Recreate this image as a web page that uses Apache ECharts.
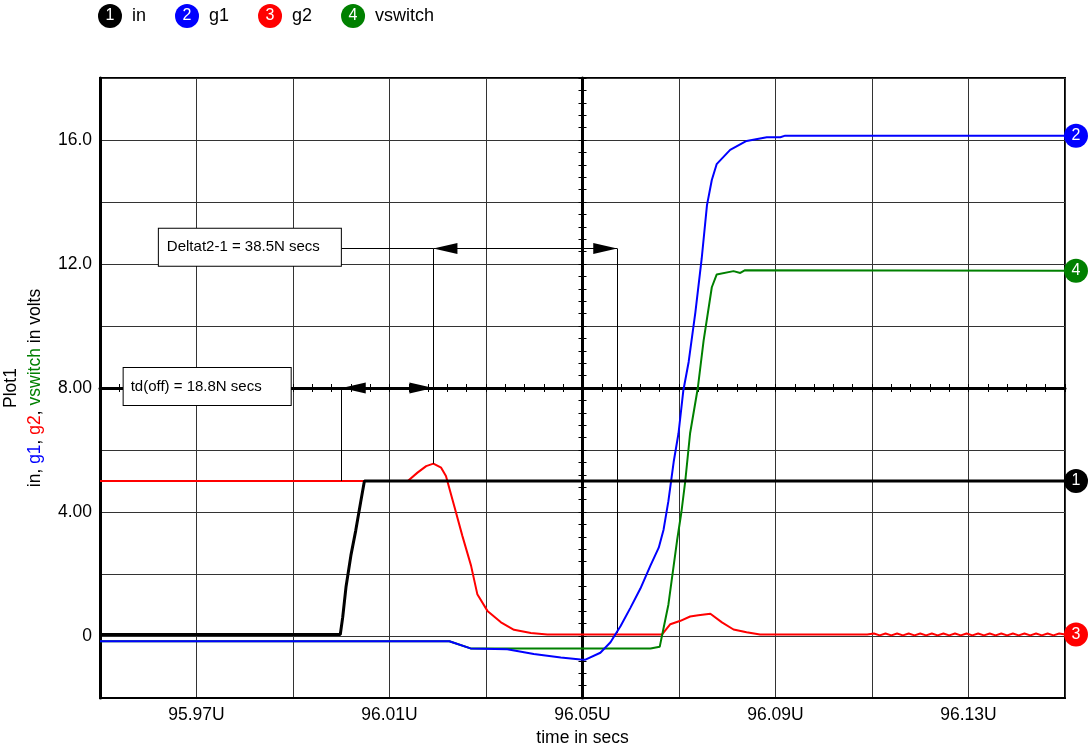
<!DOCTYPE html>
<html>
<head>
<meta charset="utf-8">
<script src="https://cdn.jsdelivr.net/npm/echarts@6/dist/echarts.min.js"></script>
<style>
  html, body { margin: 0; padding: 0; background: #fff; }
  #chart { width: 1090px; height: 746px; }
</style>
</head>
<body>
<div id="chart"></div>
<script>
// trace names / colours (legend order)
var seriesNames = ['in', 'g1', 'g2', 'vswitch'];
var seriesColors = ['#000000', '#0000ff', '#ff0000', '#008000'];

// time axis in U (microseconds), voltages in volts
var inTime = [95.95, 95.9998, 96.0003, 96.001, 96.002, 96.003, 96.004, 96.0048, 96.15];
var inVolt = [0.05, 0.05, 0.6, 1.6, 2.6, 3.4, 4.3, 5.0, 5.0];

var g1Time = [95.95, 96.0224, 96.0268, 96.0344, 96.0399, 96.0455, 96.0496, 96.0505, 96.0537, 96.0558,
              96.0579, 96.0599, 96.062, 96.0641, 96.0658, 96.0668, 96.0678, 96.0689, 96.0699, 96.0709,
              96.072, 96.0734, 96.0747, 96.0758, 96.0768, 96.0778, 96.0806, 96.084, 96.0882, 96.091,
              96.092, 96.15];
var g1Volt = [-0.17, -0.17, -0.4, -0.43, -0.58, -0.69, -0.76, -0.77, -0.54, -0.2,
              0.32, 0.9, 1.53, 2.28, 2.85, 3.43, 4.35, 5.62, 6.54, 7.92,
              8.84, 10.45, 12.17, 13.9, 14.71, 15.22, 15.68, 15.97, 16.09, 16.09,
              16.14, 16.14];

var g2Time = [95.95, 96.0138, 96.0158, 96.0176, 96.0191, 96.0207, 96.0217, 96.0234, 96.0251, 96.0269,
              96.0282, 96.0303, 96.0331, 96.0358, 96.0393, 96.0427, 96.0665, 96.0682, 96.0703, 96.0723,
              96.074, 96.0765, 96.0789, 96.0813, 96.084, 96.0868, 96.109,
              96.1104, 96.1116, 96.1128, 96.114, 96.1152, 96.1164, 96.1176, 96.1188, 96.12, 96.1212,
              96.1224, 96.1236, 96.1248, 96.126, 96.1272, 96.1284, 96.1296, 96.1308, 96.132, 96.1332,
              96.1344, 96.1356, 96.1368, 96.138, 96.1392, 96.1404, 96.1416, 96.1428, 96.144, 96.1452,
              96.1464, 96.1476, 96.1488, 96.15];
var g2Volt = [5.0, 5.0, 5.27, 5.48, 5.56, 5.43, 5.16, 4.2, 3.23, 2.27,
              1.35, 0.81, 0.44, 0.2, 0.1, 0.05, 0.05, 0.38, 0.49, 0.63,
              0.67, 0.72, 0.44, 0.21, 0.12, 0.05, 0.05,
              0.08, 0.02, 0.08, 0.02, 0.08, 0.02, 0.08, 0.02, 0.08, 0.02,
              0.08, 0.02, 0.08, 0.02, 0.08, 0.02, 0.08, 0.02, 0.08, 0.02,
              0.08, 0.02, 0.08, 0.02, 0.08, 0.02, 0.08, 0.02, 0.08, 0.02,
              0.08, 0.02, 0.08, 0.05];

var vswTime = [95.95, 96.0224, 96.0268, 96.0641, 96.066, 96.0678, 96.0696, 96.0705, 96.0713, 96.0723,
               96.0739, 96.0751, 96.0768, 96.0778, 96.0813, 96.0827, 96.0837, 96.15];
var vswVolt = [-0.17, -0.17, -0.4, -0.4, -0.35, 1.01, 3.08, 4.0, 5.0, 6.54,
               8.0, 9.53, 11.25, 11.66, 11.77, 11.71, 11.8, 11.78];

// axis tick labels
var xLabelValues = ['95.97', '96.01', '96.05', '96.09', '96.13'];
var yLabelMap = { '0': '0', '4': '4.00', '8': '8.00', '12': '12.0', '16': '16.0' };

// cursor measurements
var tdOffText = 'td(off) = 18.8N secs';
var deltaText = 'Deltat2-1 = 38.5N secs';
var cursorA = 96.0001, cursorB = 96.0191, cursorC = 96.0572;
var tdLevel = 8, deltaLevel = 12.5;

function zip(t, v) {
    var out = [];
    for (var i = 0; i < t.length; i++) out.push([t[i], v[i]]);
    return out;
}

var FONT = '"Liberation Sans", Arial, sans-serif';
var chart = echarts.init(document.getElementById('chart'), null, { renderer: 'canvas' });

function endMarker(idx, t, v) {
    return {
        silent: true,
        animation: false,
        symbol: 'circle',
        symbolSize: 24,
        symbolOffset: [11, 0],
        itemStyle: { color: seriesColors[idx] },
        label: {
            show: true, position: 'inside', color: '#fff',
            fontSize: 16, fontFamily: FONT, formatter: String(idx + 1)
        },
        data: [{ coord: [t, v] }]
    };
}

var legendRich = { t: { fontSize: 18, fontFamily: FONT, color: '#000', padding: [0, 0, 0, 10] } };
for (var i = 0; i < seriesNames.length; i++) {
    legendRich['c' + i] = {
        width: 24, height: 24, lineHeight: 24, borderRadius: 12, align: 'center',
        backgroundColor: seriesColors[i], color: '#fff', fontSize: 16, fontFamily: FONT
    };
}

var option = {
    animation: false,
    backgroundColor: '#fff',
    textStyle: { fontFamily: FONT },
    legend: {
        left: 93, top: 4, padding: 0,
        icon: 'none', itemWidth: 0, itemHeight: 24, itemGap: 24,
        selectedMode: false,
        data: seriesNames,
        formatter: function (name) {
            var k = seriesNames.indexOf(name);
            return '{c' + k + '|' + (k + 1) + '}{t|' + name + '}';
        },
        textStyle: { rich: legendRich }
    },
    grid: {
        left: 100, right: 25, top: 78, bottom: 48,
        containLabel: false, outerBoundsMode: 'none',
        show: true, borderColor: '#000', borderWidth: 2
    },
    xAxis: [{
        type: 'value', min: 95.95, max: 96.15, interval: 0.02,
        position: 'bottom',
        name: 'time in secs', nameLocation: 'middle', nameGap: 27,
        nameTextStyle: { color: '#000', fontSize: 17.5, fontFamily: FONT },
        axisLine: { show: true, onZero: false, lineStyle: { color: '#000', width: 2 } },
        axisTick: { show: false },
        axisLabel: {
            color: '#000', fontSize: 17.5, fontFamily: FONT, margin: 8,
            formatter: function (v) {
                var s = v.toFixed(2);
                return xLabelValues.indexOf(s) >= 0 ? s + 'U' : '';
            }
        },
        splitLine: { show: true, lineStyle: { color: '#333', width: 1 } }
    }, {
        // crosshair at the 96.05U line, ticks below
        type: 'value', min: -0.1, max: 0.1, interval: 0.004, position: 'bottom',
        axisLine: { show: true, onZero: true, onZeroAxisIndex: 1, lineStyle: { color: '#000', width: 3 } },
        axisTick: { show: true, inside: false, length: 4, lineStyle: { color: '#000', width: 1 } },
        axisLabel: { show: false }, splitLine: { show: false }
    }, {
        // same crosshair, ticks above
        type: 'value', min: -0.1, max: 0.1, interval: 0.004, position: 'bottom',
        axisLine: { show: false, onZero: true, onZeroAxisIndex: 1 },
        axisTick: { show: true, inside: true, length: 4, lineStyle: { color: '#000', width: 1 } },
        axisLabel: { show: false }, splitLine: { show: false }
    }],
    yAxis: [{
        type: 'value', min: -2, max: 18, interval: 2,
        position: 'left',
        name: 'Plot1\n{k|in, }{b|g1}{k|, }{r|g2}{k|, }{g|vswitch}{k| in volts}',
        nameLocation: 'middle', nameGap: 46, nameRotate: 90,
        nameTextStyle: {
            color: '#000', fontSize: 17.5, fontFamily: FONT, lineHeight: 24,
            rich: {
                k: { color: '#000', fontSize: 17.5, fontFamily: FONT, lineHeight: 24 },
                b: { color: '#0000ff', fontSize: 17.5, fontFamily: FONT, lineHeight: 24 },
                r: { color: '#ff0000', fontSize: 17.5, fontFamily: FONT, lineHeight: 24 },
                g: { color: '#008000', fontSize: 17.5, fontFamily: FONT, lineHeight: 24 }
            }
        },
        axisLine: { show: true, onZero: false, lineStyle: { color: '#000', width: 3 } },
        axisTick: { show: false },
        axisLabel: {
            color: '#000', fontSize: 17.5, fontFamily: FONT, margin: 8,
            formatter: function (v) {
                var key = String(Math.round(v));
                return yLabelMap.hasOwnProperty(key) ? yLabelMap[key] : '';
            }
        },
        splitLine: { show: true, lineStyle: { color: '#333', width: 1 } }
    }, {
        // crosshair at the 8V line, ticks to the left
        type: 'value', min: -10, max: 10, interval: 0.4, position: 'left',
        axisLine: { show: true, onZero: true, onZeroAxisIndex: 1, lineStyle: { color: '#000', width: 3 } },
        axisTick: { show: true, inside: false, length: 4, lineStyle: { color: '#000', width: 1 } },
        axisLabel: { show: false }, splitLine: { show: false }
    }, {
        // same crosshair, ticks to the right
        type: 'value', min: -10, max: 10, interval: 0.4, position: 'left',
        axisLine: { show: false, onZero: true, onZeroAxisIndex: 1 },
        axisTick: { show: true, inside: true, length: 4, lineStyle: { color: '#000', width: 1 } },
        axisLabel: { show: false }, splitLine: { show: false }
    }],
    series: [
        {
            name: 'g2', type: 'line', z: 3, showSymbol: false, symbol: 'none',
            color: seriesColors[2], lineStyle: { color: seriesColors[2], width: 2 },
            data: zip(g2Time, g2Volt),
            markPoint: endMarker(2, g2Time[g2Time.length - 1], g2Volt[g2Volt.length - 1])
        },
        {
            name: 'vswitch', type: 'line', z: 4, showSymbol: false, symbol: 'none',
            color: seriesColors[3], lineStyle: { color: seriesColors[3], width: 2 },
            data: zip(vswTime, vswVolt),
            markPoint: endMarker(3, vswTime[vswTime.length - 1], vswVolt[vswVolt.length - 1])
        },
        {
            name: 'g1', type: 'line', z: 5, showSymbol: false, symbol: 'none',
            color: seriesColors[1], lineStyle: { color: seriesColors[1], width: 2 },
            data: zip(g1Time, g1Volt),
            markPoint: endMarker(1, g1Time[g1Time.length - 1], g1Volt[g1Volt.length - 1])
        },
        {
            name: 'in', type: 'line', z: 6, showSymbol: false, symbol: 'none',
            color: seriesColors[0], lineStyle: { color: seriesColors[0], width: 3 },
            data: zip(inTime, inVolt),
            markPoint: endMarker(0, inTime[inTime.length - 1], inVolt[inVolt.length - 1])
        },
        {
            // cursor lines, arrows and readouts
            name: 'cursors', type: 'line', z: 7, data: [], showSymbol: false,
            markLine: {
                silent: true, animation: false,
                symbol: ['triangle', 'triangle'], symbolSize: [11, 24],
                symbolOffset: [[0, 12], [0, 12]],
                lineStyle: { color: '#000', width: 1, type: 'solid' },
                itemStyle: { color: '#000' },
                label: { show: false },
                data: [
                    [{ coord: [cursorA, tdLevel] }, { coord: [cursorB, tdLevel] }],
                    [{ coord: [cursorB, deltaLevel] }, { coord: [cursorC, deltaLevel] }],
                    [{ coord: [cursorA, deltaLevel], symbol: 'none' }, { coord: [cursorB, deltaLevel], symbol: 'none' }],
                    [{ coord: [cursorA, tdLevel], symbol: 'none' }, { coord: [cursorA, 5.0], symbol: 'none' }],
                    [{ coord: [cursorB, deltaLevel], symbol: 'none' }, { coord: [cursorB, 5.56], symbol: 'none' }],
                    [{ coord: [cursorC, deltaLevel], symbol: 'none' }, { coord: [cursorC, 0.1], symbol: 'none' }]
                ]
            },
            markPoint: {
                silent: true, animation: false,
                symbol: 'circle', symbolSize: 0,
                label: {
                    show: true, position: 'right', distance: 0,
                    color: '#000', fontSize: 15, fontFamily: FONT, lineHeight: 17,
                    backgroundColor: '#fff', borderColor: '#000', borderWidth: 1
                },
                data: [
                    { coord: [95.9549, 8.05], label: { formatter: tdOffText, padding: [10, 29, 10, 7] } },
                    { coord: [95.9622, 12.54], label: { formatter: deltaText, padding: [10, 21, 10, 8] } }
                ]
            }
        }
    ]
};

chart.setOption(option);
</script>
</body>
</html>
